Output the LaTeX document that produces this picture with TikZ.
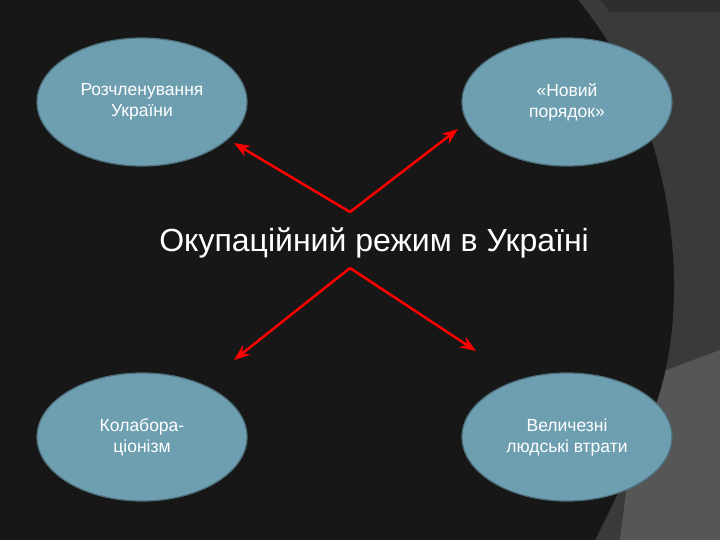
\documentclass[tikz,border=0pt]{standalone}
\usepackage{fontspec}
\setmainfont{Liberation Sans}
\begin{document}
\begin{tikzpicture}[x=1pt,y=-1pt,
  bubble/.style={ellipse,draw=black!30!bubblefill,line width=1.2pt,fill=bubblefill,minimum width=210pt,minimum height=128pt,text=white,font=\fontsize{17.5}{21}\selectfont,align=center},
  redarrow/.style={draw=red,line width=2.5pt,-{Stealth[length=16pt,width=12pt]}}]
\usetikzlibrary{shapes.geometric,arrows.meta}
\definecolor{bubblefill}{HTML}{6E9FB1}
\definecolor{bgdark}{HTML}{171717}
\definecolor{bggray}{HTML}{3A3A3A}
\definecolor{bglight}{HTML}{565656}
\useasboundingbox (0,0) rectangle (720,540);
\fill[bggray] (0,0) rectangle (720,540);
\fill[bglight] (720,350) -- (640,380) -- (620,540) -- (720,540) -- cycle;
\fill[bgdark] (0,0) -- (578,0) .. controls (670,110) and (700,300) .. (650,420) .. controls (630,470) and (610,510) .. (595,540) -- (0,540) -- cycle;
\fill[bggray!80!black] (600,0) -- (720,0) -- (720,12) -- (610,12) -- cycle;
\node[bubble] (a) at (142,102) {Розчленування\\України};
\node[bubble] (b) at (567,102) {«Новий\\порядок»};
\node[bubble] (c) at (142,437) {Колабора-\\ціонізм};
\node[bubble] (d) at (567,437) {Величезні\\людські втрати};
\node[text=white,font=\fontsize{32}{36}\selectfont] (t) at (374,243) {Окупаційний режим в Україні};
\coordinate (top) at (350,212);
\coordinate (bot) at (350,268);
\coordinate (ea) at (234,143);
\coordinate (eb) at (458,129);
\coordinate (ec) at (234,360);
\coordinate (ed) at (476,351);
\draw[redarrow] (top) -- (ea);
\draw[redarrow] (top) -- (eb);
\draw[redarrow] (bot) -- (ec);
\draw[redarrow] (bot) -- (ed);
\end{tikzpicture}
\end{document}
